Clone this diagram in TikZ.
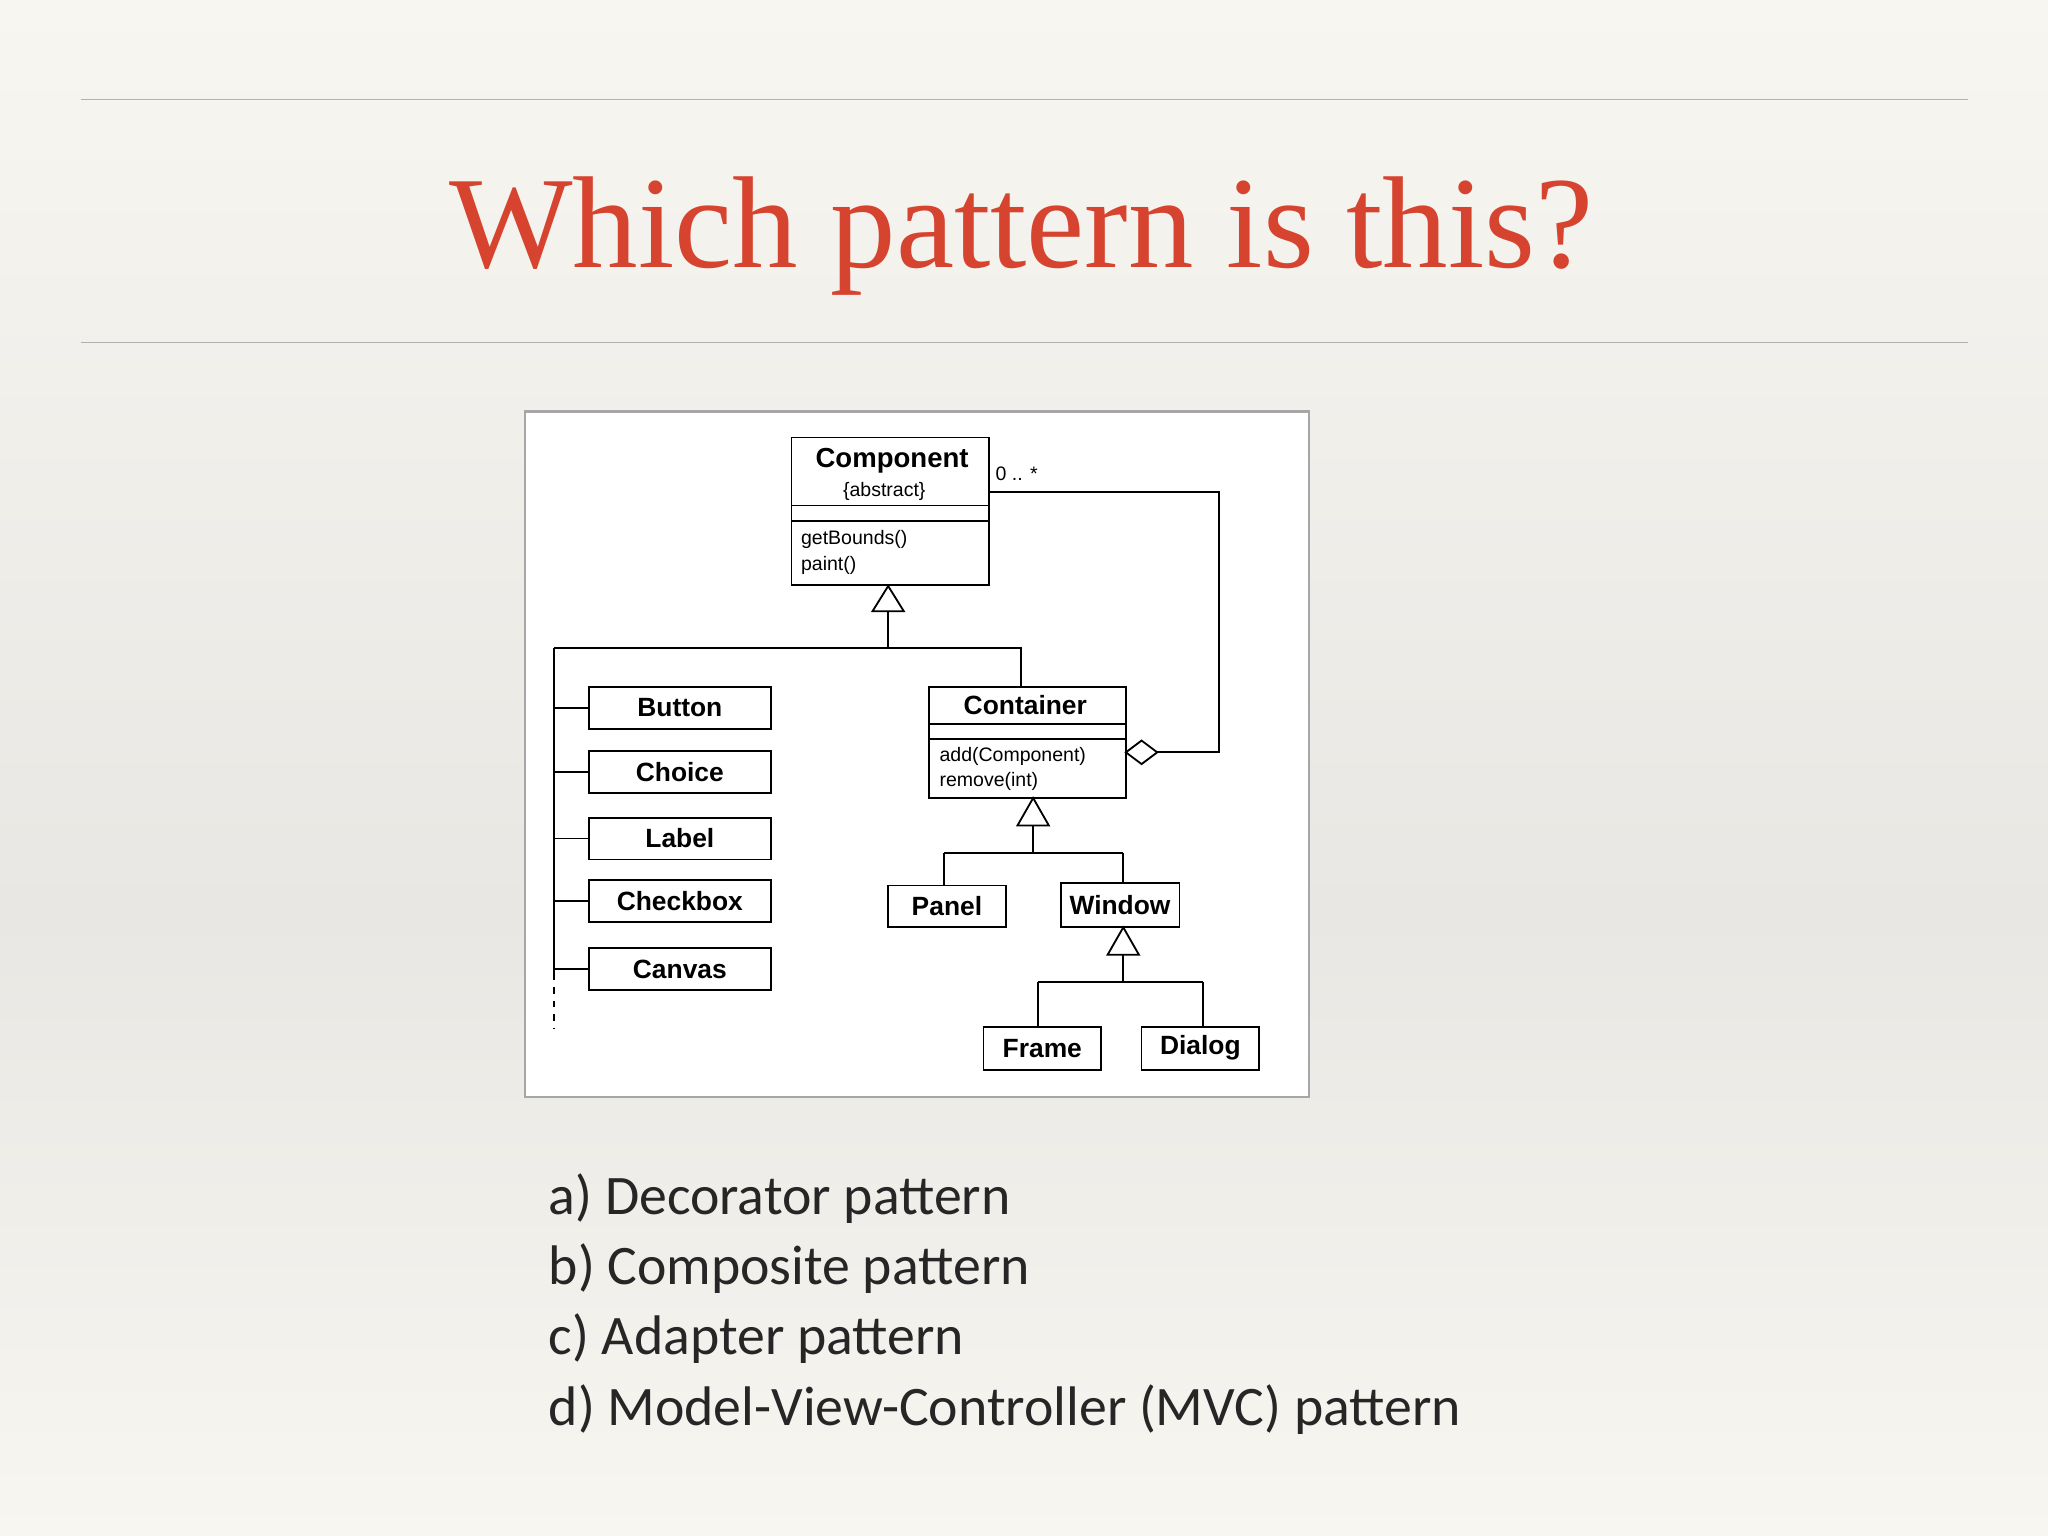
\documentclass[tikz,border=0pt]{standalone}
\usepackage{fontspec}
\setmainfont{Liberation Serif}
\setsansfont{Liberation Sans}
\newfontfamily\ans{Carlito}
\definecolor{ttl}{HTML}{D64430}
\definecolor{bgA}{HTML}{F8F6F1}
\definecolor{bgB}{HTML}{E9E7E3}
\begin{document}
\begin{tikzpicture}[x=0.02cm,y=-0.02cm,
  cls/.style={draw,fill=white,line width=0.8pt,font=\sffamily\bfseries\fontsize{11.5}{14}\selectfont,inner sep=0pt},
  ln/.style={line width=0.8pt},
  sm/.style={font=\sffamily\fontsize{8.5}{10}\selectfont,inner sep=0pt}]
\useasboundingbox (0,0) rectangle (1568,1176);
\shade[top color=bgA,bottom color=bgB] (0,0) rectangle (1568,700);
\shade[top color=bgB,bottom color=bgA] (0,700) rectangle (1568,1176);
\draw[gray!60,line width=0.6pt] (62,76) -- (1507,76) (62,262) -- (1507,262);
\node[text=ttl,font=\fontsize{57}{60}\selectfont] (title) at (782,181) {Which pattern is this?};
% diagram frame
\node[draw=gray!70,fill=white,line width=1pt,minimum width=12cm,minimum height=10.5cm] (frame) at (702,577.5) {};
% Component
\node[cls,minimum width=3.02cm,minimum height=2.26cm] (comp) at (681.5,391.5) {};
\draw[ln] (606,387) -- (757,387) (606,399) -- (757,399);
\node[font=\sffamily\bfseries\fontsize{12}{14}\selectfont] (compn) at (683,353) {Component};
\node[sm] (abs) at (677,376) {\{abstract\}};
\node[sm,anchor=west] (m1) at (613,413) {getBounds()};
\node[sm,anchor=west] (m2) at (613,433) {paint()};
\node[sm,anchor=west] (mult) at (762,363) {0 .. *};
% Container
\node[cls,minimum width=3.02cm,minimum height=1.7cm] (cont) at (786.5,568.5) {};
\draw[ln] (711,554) -- (862,554) (711,566) -- (862,566);
\node[font=\sffamily\bfseries\fontsize{11.5}{14}\selectfont] (contn) at (785,540) {Container};
\node[sm,anchor=west] (c1) at (719,579) {add(Component)};
\node[sm,anchor=west] (c2) at (719,598) {remove(int)};
% leaf classes
\foreach \n/\t/\y in {btn/Button/542,cho/Choice/591,lab/Label/642,chk/Checkbox/690,can/Canvas/742}
  \node[cls,minimum width=2.78cm,minimum height=0.64cm] (\n) at (520.5,\y) {\t};
\node[cls,minimum width=1.8cm,minimum height=0.64cm] (panel) at (725,694) {Panel};
\node[cls,minimum width=1.82cm,minimum height=0.68cm] (win) at (857.5,693) {Window};
\node[cls,minimum width=1.8cm,minimum height=0.66cm] (frm) at (798,802.5) {Frame};
\node[cls,minimum width=1.8cm,minimum height=0.66cm] (dlg) at (919,802.5) {Dialog};
% generalisation from Component
\coordinate (t1) at (680,468);
\draw[ln,fill=white] (comp.south -| t1) -- (668,468) -- (692,468) -- cycle;
\draw[ln] (t1) -- (680,496);
\draw[ln] (424,496) -- (782,496) -- (782,526);
\draw[ln] (424,496) -- (424,745);
\draw[ln,dashed] (424,745) -- (424,788);
\foreach \n in {btn,cho,lab,chk,can} \draw[ln] (\n.west) -- (\n.west -| 424,0);
% aggregation
\coordinate (dm) at (862,576);
\draw[ln] (comp.east |- 0,377) -- (933,377) -- (933,576) -- (886,576);
\draw[ln,fill=white] (dm) -- (874,567) -- (886,576) -- (874,585) -- cycle;
% generalisation from Container
\draw[ln,fill=white] (791,611) -- (779,632) -- (803,632) -- cycle;
\draw[ln] (791,632) -- (791,653);
\draw[ln] (723,653) -- (860,653);
\draw[ln] (723,653) -- (panel.north -| 723,0);
\draw[ln] (860,653) -- (win.north -| 860,0);
% from Window
\draw[ln,fill=white] (860,710) -- (848,731) -- (872,731) -- cycle;
\draw[ln] (860,731) -- (860,752);
\draw[ln] (795,752) -- (921,752);
\draw[ln] (795,752) -- (frm.north -| 795,0);
\draw[ln] (921,752) -- (dlg.north -| 921,0);
% answers
\begin{scope}[every node/.style={anchor=west,font=\ans\fontsize{24.3}{26}\selectfont,text=black!85}]
\node (a) at (414,918) {a) Decorator pattern};
\node (b) at (414,971) {b) Composite pattern};
\node (c) at (414,1025) {c) Adapter pattern};
\node (d) at (414,1079) {d) Model-View-Controller (MVC) pattern};
\end{scope}
\end{tikzpicture}
\end{document}
